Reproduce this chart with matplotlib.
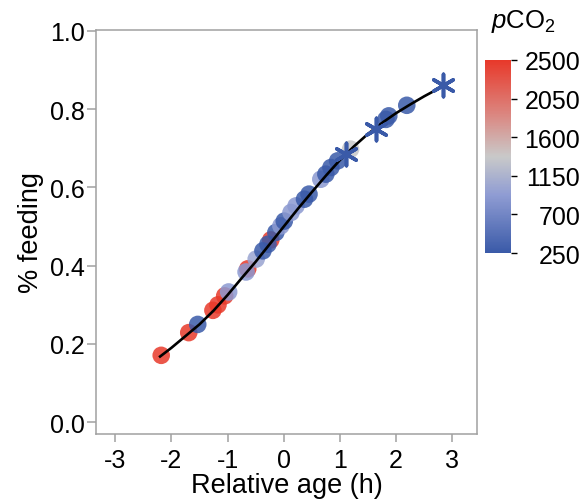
import numpy as np
import matplotlib
matplotlib.use("Agg")
import matplotlib.pyplot as plt
from matplotlib.colors import LinearSegmentedColormap, Normalize

plt.rcParams['font.family'] = ['Liberation Sans', 'DejaVu Sans']
plt.rcParams['mathtext.fontset'] = 'custom'
plt.rcParams['mathtext.rm'] = 'Liberation Sans'
plt.rcParams['mathtext.it'] = 'Liberation Sans:italic'

# observed points (relative age, fraction feeding, pCO2); first two sit behind others
age = [-0.64, -0.23,
       -2.18, -1.69, -1.53, -1.26, -1.17, -1.05, -0.98, -0.67, -0.49,
       -0.37, -0.28, -0.14, -0.05, 0.01, 0.13, 0.22, 0.37, 0.45,
       0.66, 0.75, 0.84, 0.96, 1.19, 1.82, 1.87, 2.19]
feeding = [0.392, 0.466,
           0.171, 0.229, 0.250, 0.286, 0.300, 0.323, 0.333, 0.384, 0.417,
           0.438, 0.455, 0.485, 0.502, 0.514, 0.536, 0.553, 0.570, 0.583,
           0.621, 0.634, 0.651, 0.668, 0.698, 0.774, 0.783, 0.810]
pco2 = [2500, 2500,
        2500, 2500, 250, 2500, 2500, 2500, 900, 900, 1000,
        250, 250, 250, 900, 250, 900, 900, 250, 250,
        900, 250, 250, 250, 1350, 250, 250, 250]

# predicted points (asterisks)
pred_age = [1.10, 1.64, 2.84]
pred_feeding = [0.685, 0.749, 0.861]

# fitted curve
curve_age = [-2.2, -2.0, -1.75, -1.5, -1.25, -1.0, -0.75, -0.5, -0.25, 0.0, 0.25,
             0.5, 0.75, 1.0, 1.25, 1.5, 1.75, 2.0, 2.25, 2.5, 2.85]
curve_feeding = [0.168, 0.19, 0.22, 0.25, 0.285, 0.325, 0.368, 0.41, 0.455, 0.50, 0.545,
                 0.588, 0.63, 0.67, 0.705, 0.737, 0.765, 0.79, 0.812, 0.833, 0.86]

cbar_ticks = [250, 700, 1150, 1600, 2050, 2500]

cmap = LinearSegmentedColormap.from_list(
    'pco2', [(0, '#3A5AA8'), (0.3, '#8F9CD3'), (0.5, '#C9C9C9'),
             (0.72, '#DB8680'), (1, '#E8392A')])
norm = Normalize(250, 2500)
grey = '#A0A0A0'

fig = plt.figure(figsize=(5.82, 5.02), dpi=100)
ax = fig.add_axes([0.165, 0.1335, 0.6546, 0.8048])

ax.plot(curve_age, curve_feeding, color='black', lw=1.9, zorder=3)
ax.scatter(age, feeding, c=pco2, cmap=cmap, norm=norm, s=160, alpha=0.85,
           edgecolors='none', zorder=2)
ax.scatter(pred_age, pred_feeding, marker=(6, 2, 0), s=260, color='#3A5AA8',
           linewidths=2.6, zorder=4)

ax.set_xlim(-3.34, 3.44)
ax.set_ylim(-0.03, 1.0025)
ax.set_xticks([-3, -2, -1, 0, 1, 2, 3])
ax.set_xticklabels(['-3', '-2', '-1', '0', '1', '2', '3'])
ax.set_yticks([0, 0.2, 0.4, 0.6, 0.8, 1.0])
ax.set_yticklabels(['0.0', '0.2', '0.4', '0.6', '0.8', '1.0'])
for s in ax.spines.values():
    s.set_color(grey)
    s.set_linewidth(1.1)
ax.tick_params(color=grey, width=1.1, labelsize=18)
ax.tick_params(axis='x', length=6, pad=4)
ax.tick_params(axis='y', length=6.5, pad=1.5)
ax.set_xlabel('Relative age (h)', fontsize=19.5, labelpad=0)
ax.set_ylabel('% feeding', fontsize=19.5, labelpad=4)

cax = fig.add_axes([0.8333, 0.494, 0.0455, 0.3845])
sm = plt.cm.ScalarMappable(norm=norm, cmap=cmap)
cbar = fig.colorbar(sm, cax=cax, ticks=cbar_ticks)
cbar.outline.set_visible(False)
cax.tick_params(length=4.5, width=1, labelsize=18, pad=45)
for t, v in zip(cax.yaxis.get_major_ticks(), cbar_ticks):
    t.tick2line.set_color(cmap(norm(v)))
cax.set_yticklabels([str(v) for v in cbar_ticks], ha='right')
fig.text(0.9, 0.958, r'$p$CO$_2$', fontsize=18.5, ha='center', va='center')

fig.savefig('out.png', dpi=100)
